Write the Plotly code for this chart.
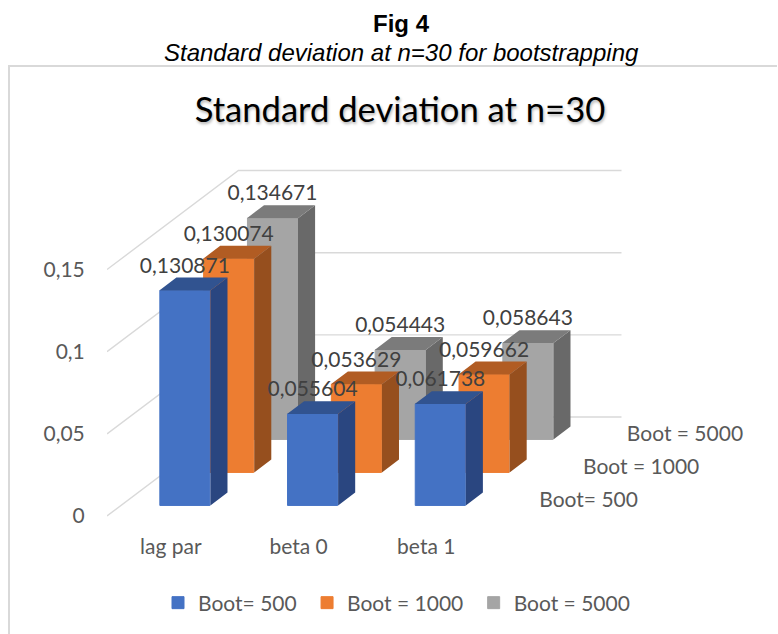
import plotly.graph_objects as go

# ---- data ----
categories = ["lag par", "beta 0", "beta 1"]
series_names = ["Boot= 500", "Boot = 1000", "Boot = 5000"]
boot_500 = [0.130871, 0.055604, 0.061738]
boot_1000 = [0.130074, 0.053629, 0.059662]
boot_5000 = [0.134671, 0.054443, 0.058643]
y_ticks = [0, 0.05, 0.1, 0.15]

# ---- styling ----
front_colors = ["#4472C4", "#ED7D31", "#A5A5A5"]
side_colors = ["#2A4680", "#964F1E", "#696969"]
top_colors = ["#315390", "#B15C23", "#7B7B7B"]
legend_pad = ["\u00a0", "\u00a0", ""]
GRID = "#D9D9D9"
LABEL = "#404040"
AXIS = "#595959"
FONT = "Lato"

W, H = 778, 634
LEFT = 107
PX_PER_CAT = 127.7
PX_PER_VAL = 1643.0
ZERO_PY = 516.0
DEPTH_DX = 43.8 / PX_PER_CAT   # category units per depth slot
DEPTH_DY = 33.0 / PX_PER_VAL   # value units per depth slot
BAR_FRONT = 0.32
BAR_BACK = 0.71
BAR_W = 0.4
X0 = -0.5
values = [boot_500, boot_1000, boot_5000]


def px(c, d):
    return c + d * DEPTH_DX


def py(v, d):
    return v + d * DEPTH_DY


fig = go.Figure()

# back wall / floor grid lines
gx, gy = [], []
for v in y_ticks:
    gx += [px(-0.5, 0), px(-0.5, 3), px(2.5, 3), None]
    gy += [py(v, 0), py(v, 3), py(v, 3), None]
fig.add_trace(go.Scatter(x=gx, y=gy, mode="lines", line=dict(color=GRID, width=1.4),
                         showlegend=False, hoverinfo="skip", zorder=0))

# bars, each series drawn back to front through zorder
for s, name in enumerate(series_names):
    z = 3 - s
    d0, d1 = s + BAR_FRONT, s + BAR_BACK
    xs = [px(c, d0) for c in range(len(categories))]
    bases = [py(0, d0)] * len(categories)
    fig.add_trace(go.Bar(x=xs, y=values[s], base=bases, width=BAR_W - 0.008,
                         name=name + legend_pad[s],
                         marker=dict(color=front_colors[s], line=dict(color=front_colors[s], width=1)),
                         zorder=z, hoverinfo="skip"))
    sx, sy, tx, ty = [], [], [], []
    for c, v in enumerate(values[s]):
        r = c + BAR_W / 2
        l = c - BAR_W / 2
        sx += [px(r, d0), px(r, d1), px(r, d1), px(r, d0), px(r, d0), None]
        sy += [py(0, d0), py(0, d1), py(v, d1), py(v, d0), py(0, d0), None]
        tx += [px(l, d0), px(l, d1), px(r, d1), px(r, d0), px(l, d0), None]
        ty += [py(v, d0), py(v, d1), py(v, d1), py(v, d0), py(v, d0), None]
    fig.add_trace(go.Scatter(x=sx, y=sy, mode="lines", fill="toself", fillcolor=side_colors[s],
                             line=dict(width=0), showlegend=False, hoverinfo="skip", zorder=z))
    fig.add_trace(go.Scatter(x=tx, y=ty, mode="lines", fill="toself", fillcolor=top_colors[s],
                             line=dict(width=0), showlegend=False, hoverinfo="skip", zorder=z))

# data labels on top of everything
for s in range(3):
    d0 = s + BAR_FRONT
    fig.add_trace(go.Scatter(
        x=[px(c, d0) for c in range(3)],
        y=[py(v, d0) + 23 / PX_PER_VAL for v in values[s]],
        mode="text", text=[f"{v:.6f}".replace(".", ",") for v in values[s]],
        textposition="middle center", textfont=dict(family=FONT, size=21, color=LABEL),
        showlegend=False, hoverinfo="skip", zorder=10, cliponaxis=False))

# depth-axis labels
fig.add_trace(go.Scatter(
    x=[px(2.5, s + 0.0) + 0.385 for s in range(3)],
    y=[py(0, s + 0.5) - 2 / PX_PER_VAL for s in range(3)],
    mode="text", text=series_names, textposition="middle right",
    textfont=dict(family=FONT, size=21, color=AXIS),
    showlegend=False, hoverinfo="skip", zorder=10, cliponaxis=False))


def xp(p):
    return (p - LEFT) / (W - LEFT)


def yp(p):
    return 1 - p / H


fig.update_layout(
    width=W, height=H, margin=dict(l=LEFT, r=0, t=0, b=0, pad=0),
    paper_bgcolor="white", plot_bgcolor="white", barmode="overlay", separators=", ",
    font=dict(family=FONT, color=AXIS, size=21),
    title=dict(text="Standard deviation at n=30", xref="container", yref="container",
               x=400 / W, xanchor="center", y=1 - 110 / H, yanchor="middle",
               font=dict(family=FONT, size=34.6, color="#000000",
                         shadow="1px 2px 3px rgba(0,0,0,0.3)")),
    xaxis=dict(range=[X0, X0 + (W - LEFT) / PX_PER_CAT], tickmode="array",
               tickvals=list(range(3)), ticktext=categories,
               anchor="free", position=1 - ZERO_PY / H, showgrid=False, zeroline=False,
               showline=False, ticks="outside", ticklen=12, tickcolor="rgba(0,0,0,0)",
               tickfont=dict(family=FONT, size=21, color=AXIS)),
    yaxis=dict(range=[(ZERO_PY - H) / PX_PER_VAL, ZERO_PY / PX_PER_VAL], tickmode="array",
               tickvals=y_ticks, showgrid=False, zeroline=False, showline=False,
               ticks="outside", ticklen=17, tickcolor="rgba(0,0,0,0)",
               tickfont=dict(family=FONT, size=21, color=AXIS)),
    legend=dict(orientation="h", x=xp(158), xanchor="left", y=yp(603), yanchor="middle",
                font=dict(family=FONT, size=21, color=AXIS),
                bgcolor="rgba(0,0,0,0)"),
    shapes=[
        dict(type="line", xref="paper", yref="paper", x0=xp(9), x1=xp(9), y0=yp(66), y1=yp(H),
             line=dict(color="#D9D9D9", width=2)),
        dict(type="line", xref="paper", yref="paper", x0=xp(8), x1=xp(777), y0=yp(66), y1=yp(66),
             line=dict(color="#D9D9D9", width=2)),
    ],
    annotations=[
        dict(text="<b>Fig 4</b>", xref="paper", yref="paper", x=xp(401), y=yp(24),
             xanchor="center", yanchor="middle", showarrow=False,
             font=dict(family="Liberation Sans", size=24, color="black")),
        dict(text="<i>Standard deviation at n=30 for bootstrapping</i>", xref="paper", yref="paper",
             x=xp(401.5), y=yp(52), xanchor="center", yanchor="middle", showarrow=False,
             font=dict(family="Liberation Sans", size=24, color="black")),
    ],
)

fig.write_html("out.html", config=dict(displayModeBar=False),
               post_script="document.body.style.margin='0';")
